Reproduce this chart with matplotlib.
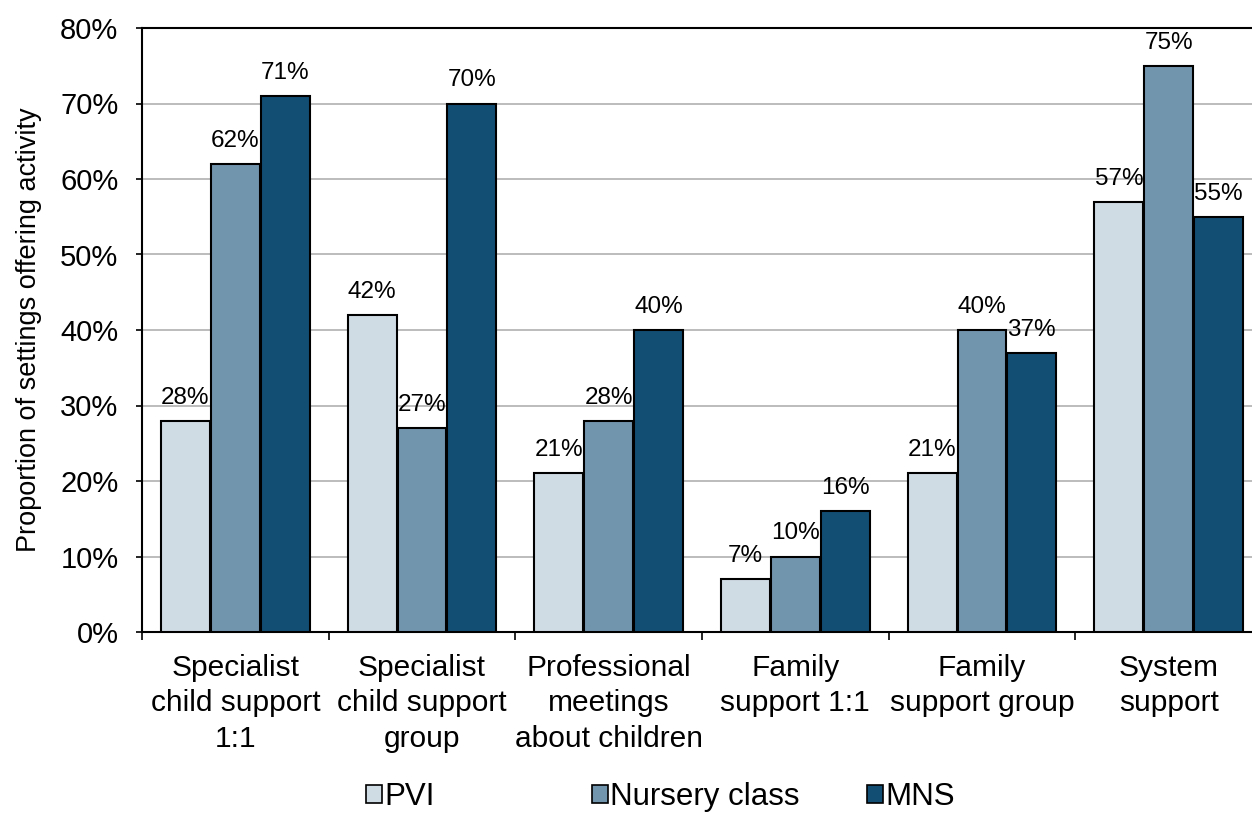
import matplotlib.pyplot as plt
import numpy as np
from matplotlib.patches import Patch

categories = [
    "Specialist\nchild support\n1:1",
    "Specialist\nchild support\ngroup",
    "Professional\nmeetings\nabout children",
    "Family\nsupport 1:1",
    "Family\nsupport group",
    "System\nsupport",
]
pvi = [28, 42, 21, 7, 21, 57]
nursery = [62, 27, 28, 10, 40, 75]
mns = [71, 70, 40, 16, 37, 55]

series = ["PVI", "Nursery class", "MNS"]
colors = ["#D0DCE4", "#7295AE", "#124E73"]

plt.rcParams["font.family"] = ["Liberation Sans", "DejaVu Sans"]

fig = plt.figure(figsize=(12.52, 8.14), dpi=100)
ax = fig.add_axes([142 / 1252, 182 / 814, 1120 / 1252, 604 / 814])

x = np.arange(len(categories))
w = 0.262
offsets = [-w - 0.005, 0, w + 0.005]
for vals, off, col in zip([pvi, nursery, mns], offsets, colors):
    bars = ax.bar(x + 0.5 + off, vals, width=w, color=col,
                  edgecolor="black", linewidth=1.5, zorder=3)
    for b, v in zip(bars, vals):
        ax.text(b.get_x() + b.get_width() / 2, v + 1.6, f"{v}%",
                ha="center", va="bottom", fontsize=17.5)

ax.set_xlim(0, 6)
ax.set_ylim(0, 80)
ax.set_yticks(np.arange(0, 81, 10))
ax.set_yticklabels([f"{t}%" for t in range(0, 81, 10)], fontsize=21)
ax.yaxis.grid(True, color="#B0B0B0", linewidth=1.2, zorder=0)
ax.set_axisbelow(True)

# category boundaries as ticks, labels as minor ticks at centres
ax.set_xticks(np.arange(0, 7))
ax.set_xticklabels([])
ax.set_xticks(x + 0.5, minor=True)
ax.set_xticklabels(categories, minor=True, fontsize=21.5, linespacing=1.33)
ax.tick_params(axis="x", which="major", length=6, width=1.2, direction="out")
ax.tick_params(axis="x", which="minor", length=0, pad=16)
ax.tick_params(axis="y", length=4, width=1.2, pad=13)

for s in ["left", "bottom", "top"]:
    ax.spines[s].set_linewidth(1.5)
    ax.spines[s].set_color("black")
ax.spines["right"].set_visible(False)

ax.set_ylabel("Proportion of settings offering activity", fontsize=19.5)
ax.yaxis.set_label_coords((42 - 142) / 1120, 0.5)

# legend entries placed one by one along the bottom
legend_x = [366, 592, 867]
for name, col, lx in zip(series, colors, legend_x):
    fig.legend([Patch(facecolor=col, edgecolor="black", linewidth=1.2)], [name],
               loc="center left", bbox_to_anchor=(lx / 1252, 17 / 814),
               frameon=False, fontsize=22.5, handlelength=0.5, handleheight=0.5,
               handletextpad=0.08, borderpad=0, borderaxespad=0)

fig.savefig("out.png", dpi=100)
